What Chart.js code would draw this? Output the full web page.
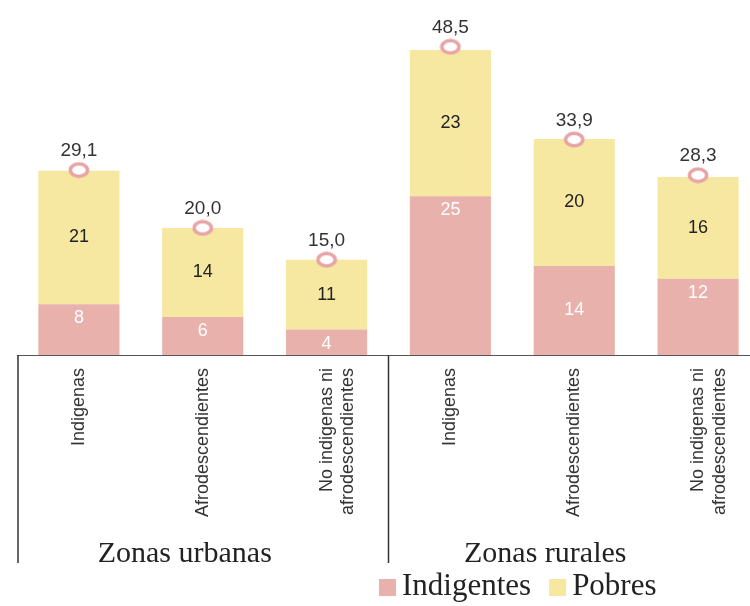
<!DOCTYPE html>
<html>
<head>
<meta charset="utf-8">
<script src="https://cdn.jsdelivr.net/npm/chart.js@4"></script>
<style>
  body { margin: 0; overflow: hidden; background: #fff; }
</style>
</head>
<body>
<!-- el lienzo es más ancho que la ventana: el eje sigue más allá del borde derecho -->
<canvas id="grafico" width="770" height="606"></canvas>
<script>
// categorías (eje x)
const categorias = [
    ['Indigenas'],
    ['Afrodescendientes'],
    ['No indigenas ni', 'afrodescendientes'],
    ['Indigenas'],
    ['Afrodescendientes'],
    ['No indigenas ni', 'afrodescendientes']
];
const zonas = ['Zonas urbanas', 'Zonas rurales'];

// valores de las series
const indigentes = [8, 6, 4, 25, 14, 12];
const pobres = [21, 14, 11, 23, 20, 16];
const totales = [29.1, 20.0, 15.0, 48.5, 33.9, 28.3];

// dónde va la etiqueta de indigentes en cada barra
const posEtiqueta = ['top', 'top', 'top', 'top', 'center', 'top'];

const rosa = '#e9b1ac';
const amarillo = '#f6e7a1';
const rosaMarca = '#e6a4a6';
const sans = "'Liberation Sans', Arial, sans-serif";
const serif = "'Liberation Serif', 'Times New Roman', serif";

// marca ovalada para el total
const marca = document.createElement('canvas');
marca.width = 22;
marca.height = 17;
{
    const m = marca.getContext('2d');
    m.beginPath();
    m.ellipse(11, 8.5, 8.6, 6.2, 0, 0, Math.PI * 2);
    m.fillStyle = '#fff';
    m.fill();
    m.lineWidth = 3.5;
    m.strokeStyle = rosaMarca;
    m.stroke();
}

// etiquetas de valores y totales
const etiquetas = {
    id: 'etiquetas',
    afterDatasetsDraw(chart) {
        const ctx = chart.ctx;
        ctx.save();
        ctx.textAlign = 'center';
        ctx.textBaseline = 'middle';
        ctx.font = '18px ' + sans;
        chart.getDatasetMeta(0).data.forEach((bar, i) => {
            ctx.fillStyle = '#fff';
            let y = posEtiqueta[i] === 'top' ? bar.y + 14 : (bar.y + bar.base) / 2;
            ctx.fillText(indigentes[i], bar.x, y);
        });
        chart.getDatasetMeta(1).data.forEach((bar, i) => {
            ctx.fillStyle = '#222';
            ctx.fillText(pobres[i], bar.x, (bar.y + bar.base) / 2);
        });
        ctx.font = '19px ' + sans;
        ctx.textBaseline = 'alphabetic';
        ctx.fillStyle = '#333';
        chart.getDatasetMeta(2).data.forEach((pt, i) => {
            ctx.fillText(totales[i].toFixed(1).replace('.', ','), pt.x, pt.y - 14);
        });
        ctx.restore();
    }
};

// líneas divisorias, zonas y leyenda
const extras = {
    id: 'extras',
    afterDraw(chart) {
        const ctx = chart.ctx;
        const area = chart.chartArea;
        const x = chart.scales.x;
        const mitad = (x.getPixelForValue(2) + x.getPixelForValue(3)) / 2;
        ctx.save();
        ctx.strokeStyle = '#333';
        ctx.lineWidth = 1.5;
        [area.left + 1, mitad].forEach(px => {
            ctx.beginPath();
            ctx.moveTo(px, area.bottom);
            ctx.lineTo(px, 563);
            ctx.stroke();
        });
        ctx.fillStyle = '#222';
        ctx.font = '30px ' + serif;
        ctx.textAlign = 'center';
        ctx.fillText(zonas[0], x.getPixelForValue(1) - 18, 562);
        ctx.fillText(zonas[1], x.getPixelForValue(4) - 29, 562);

        // leyenda
        ctx.font = '31px ' + serif;
        ctx.textAlign = 'left';
        let lx = 379;
        [['Indigentes', rosa], ['Pobres', amarillo]].forEach(([txt, col]) => {
            ctx.fillStyle = col;
            ctx.fillRect(lx, 579, 17, 17);
            ctx.fillStyle = '#222';
            ctx.fillText(txt, lx + 23, 595);
            lx += 23 + ctx.measureText(txt).width + 18;
        });
        ctx.restore();
    }
};

const config = {
    data: {
        labels: categorias,
        datasets: [
            {
                type: 'bar',
                label: 'Indigentes',
                data: indigentes,
                backgroundColor: rosa,
                stack: 'a',
                order: 1,
                categoryPercentage: 1,
                barPercentage: 0.655
            },
            {
                type: 'bar',
                label: 'Pobres',
                data: pobres,
                backgroundColor: amarillo,
                stack: 'a',
                order: 1,
                categoryPercentage: 1,
                barPercentage: 0.655
            },
            {
                type: 'line',
                label: 'Total',
                data: totales,
                stack: 'total',
                showLine: false,
                order: 0,
                pointStyle: marca,
                pointRadius: 9,
                pointHoverRadius: 9
            }
        ]
    },
    options: {
        responsive: false,
        animation: false,
        layout: { padding: { left: 17, right: 0, top: 5, bottom: 71 } },
        plugins: {
            legend: { display: false },
            tooltip: { enabled: false }
        },
        scales: {
            x: {
                stacked: true,
                grid: { display: false },
                border: { display: true, color: '#555', width: 1 },
                ticks: {
                    color: '#333',
                    font: { family: sans, size: 18 },
                    maxRotation: 90,
                    minRotation: 90,
                    padding: 5,
                    autoSkip: false
                },
                afterFit(scale) { scale.height = 180; }
            },
            y: {
                display: false,
                stacked: true,
                min: 0,
                max: 54.3
            }
        }
    },
    plugins: [etiquetas, extras]
};

new Chart(document.getElementById('grafico'), config);
</script>
</body>
</html>
